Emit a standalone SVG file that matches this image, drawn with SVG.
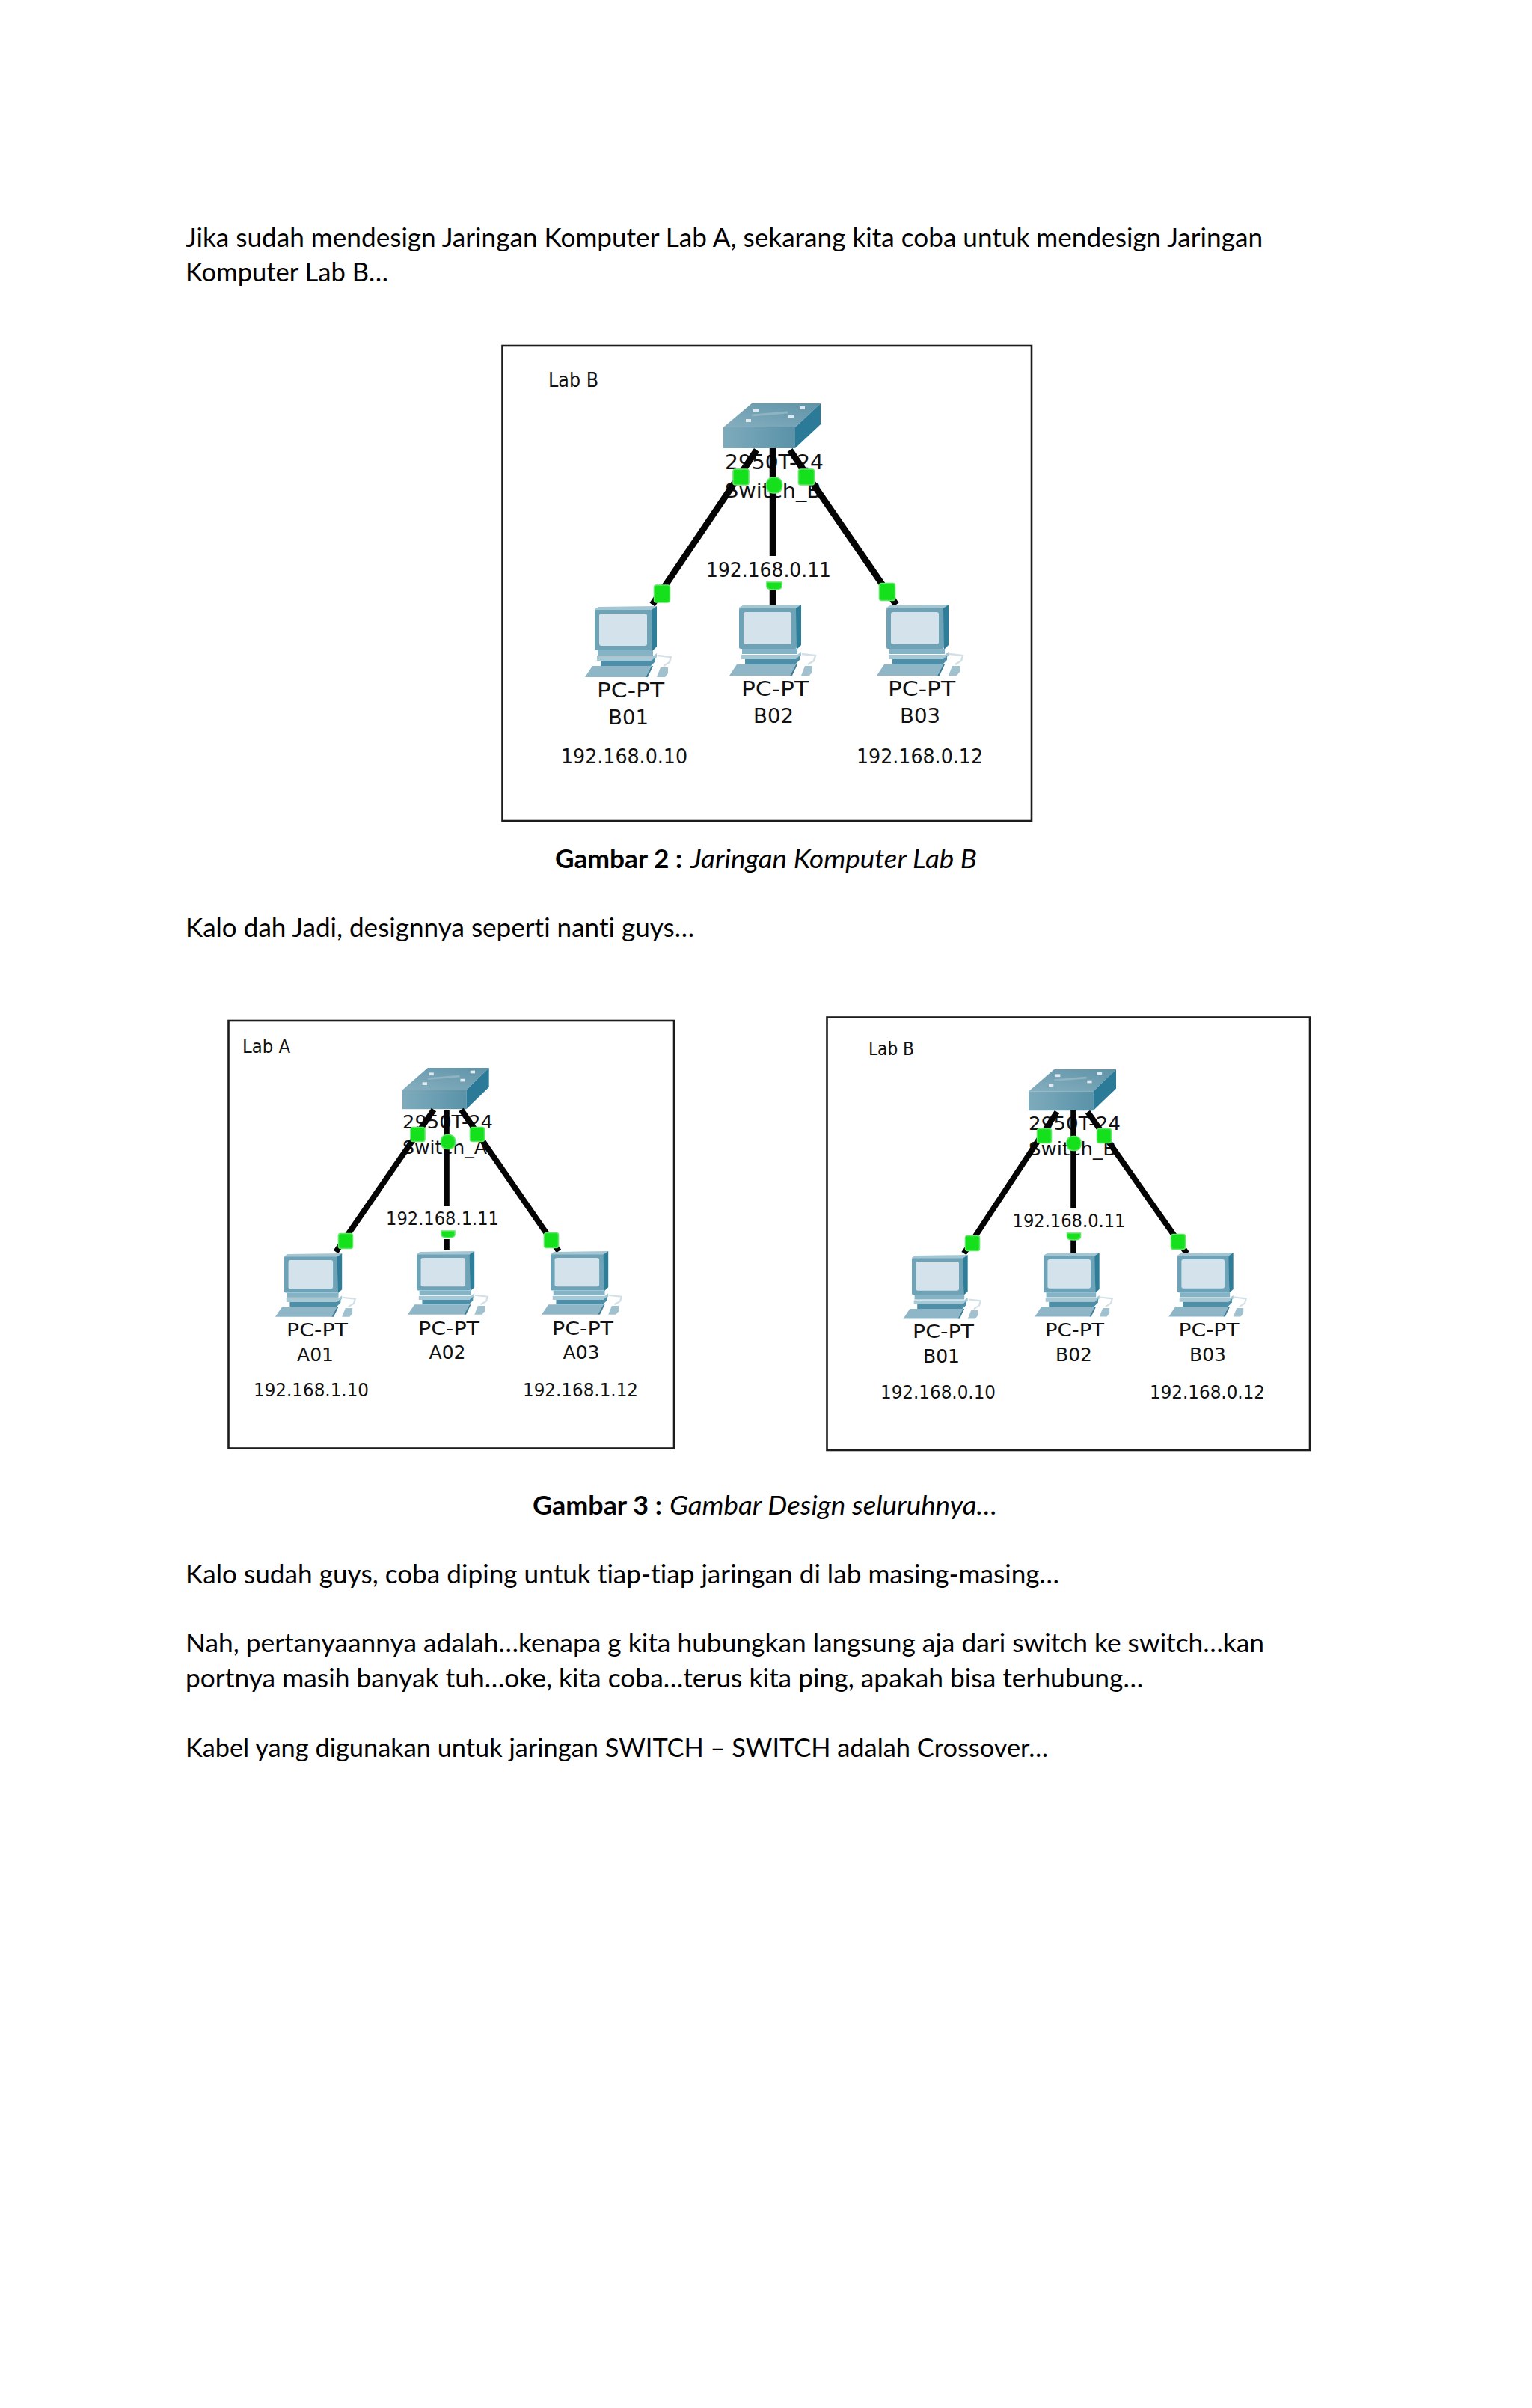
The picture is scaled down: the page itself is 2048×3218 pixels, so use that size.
<svg xmlns="http://www.w3.org/2000/svg" width="2048" height="3218" viewBox="0 0 2048 3218">
<style>
.b{font-family:"Lato","Open Sans",sans-serif;font-size:34px;fill:#000;font-variant-ligatures:none}
.bb{font-weight:700}
.bi{font-style:italic}
.n{font-family:"DejaVu Sans",sans-serif;font-size:27px;fill:#111;font-variant-ligatures:none}
.s{font-size:24.5px}
.f{fill:#fff;stroke:#1c1c1c;stroke-width:2.6}
.l{stroke:#040404;stroke-width:8.5;fill:none}
.ls{stroke-width:7.6}
.g{fill:#14e11c;stroke:#5fe866;stroke-width:1.6}
.soft{filter:url(#soft)}
</style>
<defs>
<filter id="soft" x="-5%" y="-5%" width="110%" height="110%"><feGaussianBlur stdDeviation="0.6"/></filter>
<linearGradient id="sf" x1="0" y1="0" x2="1" y2="0"><stop offset="0" stop-color="#7eabbc"/><stop offset="1" stop-color="#5a92a8"/></linearGradient>
<linearGradient id="st" x1="0" y1="1" x2="1" y2="0"><stop offset="0" stop-color="#86afbf"/><stop offset="1" stop-color="#5f93a8"/></linearGradient>
<g id="sw">
<polygon points="0,32 38,0 130,0 96,32" fill="url(#st)"/>
<rect x="0" y="32" width="96" height="28" fill="url(#sf)"/>
<polygon points="96,32 130,0 130,28 96,60" fill="#2a7a98"/>
<path d="M38,16L86,12" stroke="#8fb3c1" stroke-width="3" fill="none"/>
<rect x="40" y="7" width="7" height="4" fill="#dfeaf0"/><rect x="102" y="4" width="7" height="4" fill="#dfeaf0"/>
<rect x="30" y="21" width="7" height="4" fill="#dfeaf0"/><rect x="87" y="16" width="7" height="4" fill="#dfeaf0"/>
</g>
<g id="pc">
<path d="M84,65L102,67L100,74L92,79" stroke="#d3e1e7" stroke-width="2.5" fill="none"/>
<polygon points="0,3 5,0 83,-1 76,5 0,5" fill="#a4c5d2"/>
<rect x="0" y="4" width="77" height="54" rx="2" fill="#6ea3b7"/>
<polygon points="76,4 83,-1 83,53 77,59" fill="#2f7d99"/>
<rect x="6" y="9" width="64" height="43" rx="3" fill="#d4e3eb"/>
<rect x="4" y="58" width="74" height="7" fill="#83b3c5"/>
<polygon points="3,66 78,66 83,62 83,67 78,72 3,72" fill="#a7c8d5"/>
<polygon points="8,72 76,72 81,67 81,73 75,79 8,79" fill="#4d8ea8"/>
<polygon points="-13,94 -3,79 76,79 68,94" fill="#8eb6c7"/>
<polygon points="68,94 76,79 78,79 71,94" fill="#3f7f99"/>
<polygon points="83,94 88,81 98,81 98,89 94,94" fill="#a1c1ce"/>
</g>
</defs>
<rect width="2048" height="3218" fill="#fff"/>

<g id="text">
<text class="b" x="248" y="330" textLength="1440" lengthAdjust="spacingAndGlyphs">Jika sudah mendesign Jaringan Komputer Lab A, sekarang kita coba untuk mendesign Jaringan</text>
<text class="b" x="248" y="376" textLength="271" lengthAdjust="spacingAndGlyphs">Komputer Lab B…</text>
<text class="b bb" x="742" y="1159.5" textLength="170" lengthAdjust="spacingAndGlyphs">Gambar 2 :</text>
<text class="b bi" x="923" y="1159.5" textLength="383" lengthAdjust="spacingAndGlyphs">Jaringan Komputer Lab B</text>
<text class="b" x="248" y="1252" textLength="680" lengthAdjust="spacingAndGlyphs">Kalo dah Jadi, designnya seperti nanti guys…</text>
<text class="b bb" x="712" y="2023.5" textLength="173" lengthAdjust="spacingAndGlyphs">Gambar 3 :</text>
<text class="b bi" x="895" y="2023.5" textLength="438" lengthAdjust="spacingAndGlyphs">Gambar Design seluruhnya…</text>
<text class="b" x="248" y="2116" textLength="1168" lengthAdjust="spacingAndGlyphs">Kalo sudah guys, coba diping untuk tiap-tiap jaringan di lab masing-masing…</text>
<text class="b" x="248" y="2208" textLength="1442" lengthAdjust="spacingAndGlyphs">Nah, pertanyaannya adalah…kenapa g kita hubungkan langsung aja dari switch ke switch…kan</text>
<text class="b" x="248" y="2255" textLength="1280" lengthAdjust="spacingAndGlyphs">portnya masih banyak tuh…oke, kita coba…terus kita ping, apakah bisa terhubung…</text>
<text class="b" x="248" y="2348" textLength="1153" lengthAdjust="spacingAndGlyphs">Kabel yang digunakan untuk jaringan SWITCH – SWITCH adalah Crossover…</text>
</g>

<g id="frames">
<rect id="frame-lab-b" class="f" x="671.5" y="462" width="707.5" height="635"/>
<rect id="frame-lab-a2" class="f" x="305.5" y="1364" width="595.5" height="571.5"/>
<rect id="frame-lab-b2" class="f" x="1105.5" y="1359.5" width="645.5" height="578.5"/>
</g>

<g id="area-labels">
<text class="n" x="733" y="517" textLength="67" lengthAdjust="spacingAndGlyphs">Lab B</text>
<text class="n s" x="324" y="1407" textLength="64" lengthAdjust="spacingAndGlyphs">Lab A</text>
<text class="n s" x="1161" y="1410" textLength="61" lengthAdjust="spacingAndGlyphs">Lab B</text>
</g>

<g id="switch-b-1">
<use href="#sw" x="967" y="539" class="soft"/>
<text class="n" x="969" y="627" textLength="132" lengthAdjust="spacingAndGlyphs">2950T-24</text>
<text class="n" x="969" y="665" textLength="129" lengthAdjust="spacingAndGlyphs">Switch_B</text>
</g>
<g id="switch-a">
<use href="#sw" transform="translate(538 1427) scale(.89 .92)" class="soft"/>
<text class="n s" x="538" y="1508" textLength="121" lengthAdjust="spacingAndGlyphs">2950T-24</text>
<text class="n s" x="538" y="1542" textLength="113" lengthAdjust="spacingAndGlyphs">Switch_A</text>
</g>
<g id="switch-b-2">
<use href="#sw" transform="translate(1375 1429) scale(.9 .92)" class="soft"/>
<text class="n s" x="1375" y="1510" textLength="123" lengthAdjust="spacingAndGlyphs">2950T-24</text>
<text class="n s" x="1375" y="1543.5" textLength="117" lengthAdjust="spacingAndGlyphs">Switch_B</text>
</g>

<g id="connectors">
<path class="l" d="M1011.5,601.5L872,808M1033,599V743M1033,788V808M1056,601.5L1198,808"/>
<rect class="g" x="980" y="627" width="21" height="21" rx="3"/>
<rect class="g" x="1024.5" y="638" width="21" height="21" rx="9"/>
<rect class="g" x="1067.5" y="627" width="21" height="21" rx="3"/>
<path class="g" d="M1025,778H1045V784Q1045,788 1035,788Q1025,788 1025,784Z"/>
<rect class="g" x="874.5" y="782" width="21" height="23" rx="3"/>
<rect class="g" x="1175.5" y="779.5" width="21" height="23" rx="3"/>

<path class="l ls" d="M580,1483L449,1673M597,1483V1612M597,1656V1671M616.5,1483L747,1672"/>
<rect class="g" x="549" y="1506.5" width="19" height="19" rx="3"/>
<rect class="g" x="589.5" y="1516.5" width="19" height="19" rx="8"/>
<rect class="g" x="628.5" y="1506.5" width="19" height="19" rx="3"/>
<path class="g" d="M590,1645H608V1650Q608,1654 599,1654Q590,1654 590,1650Z"/>
<rect class="g" x="452.5" y="1648.5" width="19" height="20" rx="3"/>
<rect class="g" x="727.5" y="1647.5" width="19" height="20" rx="3"/>

<path class="l ls" d="M1413,1486L1288.6,1675M1435,1484V1614M1435,1656V1674M1454,1486L1586.5,1675"/>
<rect class="g" x="1386.5" y="1508.5" width="19" height="19" rx="3"/>
<rect class="g" x="1426" y="1518.5" width="19" height="19" rx="8"/>
<rect class="g" x="1466.5" y="1508.5" width="19" height="19" rx="3"/>
<path class="g" d="M1426.5,1648H1444.5V1653Q1444.5,1657 1435.5,1657Q1426.5,1657 1426.5,1653Z"/>
<rect class="g" x="1290.5" y="1651.5" width="19" height="20" rx="3"/>
<rect class="g" x="1565.5" y="1649.5" width="19" height="20" rx="3"/>
</g>

<g id="ip-switch-side">
<text class="n" x="944" y="771" textLength="167" lengthAdjust="spacingAndGlyphs">192.168.0.11</text>
<text class="n s" x="516" y="1637" textLength="151" lengthAdjust="spacingAndGlyphs">192.168.1.11</text>
<text class="n s" x="1353.5" y="1640" textLength="151" lengthAdjust="spacingAndGlyphs">192.168.0.11</text>
</g>

<g id="pc-b01-1"><use href="#pc" transform="translate(795 811)" class="soft"/>
<text class="n" x="798" y="932" textLength="90" lengthAdjust="spacingAndGlyphs">PC-PT</text>
<text class="n" x="813" y="968" textLength="54" lengthAdjust="spacingAndGlyphs">B01</text>
<text class="n" x="750" y="1020" textLength="169" lengthAdjust="spacingAndGlyphs">192.168.0.10</text></g>
<g id="pc-b02-1"><use href="#pc" transform="translate(988 809)" class="soft"/>
<text class="n" x="991" y="930" textLength="90" lengthAdjust="spacingAndGlyphs">PC-PT</text>
<text class="n" x="1007" y="966" textLength="54" lengthAdjust="spacingAndGlyphs">B02</text></g>
<g id="pc-b03-1"><use href="#pc" transform="translate(1185 809)" class="soft"/>
<text class="n" x="1187" y="930" textLength="90" lengthAdjust="spacingAndGlyphs">PC-PT</text>
<text class="n" x="1203" y="966" textLength="54" lengthAdjust="spacingAndGlyphs">B03</text>
<text class="n" x="1145" y="1020" textLength="169" lengthAdjust="spacingAndGlyphs">192.168.0.12</text></g>

<g id="pc-a01"><use href="#pc" transform="translate(380 1676) scale(.93 .89)" class="soft"/>
<text class="n s" x="383" y="1785.5" textLength="82" lengthAdjust="spacingAndGlyphs">PC-PT</text>
<text class="n s" x="397" y="1819" textLength="49" lengthAdjust="spacingAndGlyphs">A01</text>
<text class="n s" x="339" y="1866" textLength="154" lengthAdjust="spacingAndGlyphs">192.168.1.10</text></g>
<g id="pc-a02"><use href="#pc" transform="translate(557 1673) scale(.93 .89)" class="soft"/>
<text class="n s" x="559" y="1783.5" textLength="82" lengthAdjust="spacingAndGlyphs">PC-PT</text>
<text class="n s" x="573.5" y="1816" textLength="49" lengthAdjust="spacingAndGlyphs">A02</text></g>
<g id="pc-a03"><use href="#pc" transform="translate(736 1673) scale(.93 .89)" class="soft"/>
<text class="n s" x="738" y="1783.5" textLength="82" lengthAdjust="spacingAndGlyphs">PC-PT</text>
<text class="n s" x="752.5" y="1816" textLength="49" lengthAdjust="spacingAndGlyphs">A03</text>
<text class="n s" x="699" y="1866" textLength="154" lengthAdjust="spacingAndGlyphs">192.168.1.12</text></g>

<g id="pc-b01-2"><use href="#pc" transform="translate(1219 1678) scale(.9 .9)" class="soft"/>
<text class="n s" x="1220" y="1788" textLength="82" lengthAdjust="spacingAndGlyphs">PC-PT</text>
<text class="n s" x="1234" y="1821" textLength="49" lengthAdjust="spacingAndGlyphs">B01</text>
<text class="n s" x="1177" y="1868.5" textLength="154" lengthAdjust="spacingAndGlyphs">192.168.0.10</text></g>
<g id="pc-b02-2"><use href="#pc" transform="translate(1395 1675) scale(.9 .9)" class="soft"/>
<text class="n s" x="1397" y="1786" textLength="79" lengthAdjust="spacingAndGlyphs">PC-PT</text>
<text class="n s" x="1411" y="1819" textLength="49" lengthAdjust="spacingAndGlyphs">B02</text></g>
<g id="pc-b03-2"><use href="#pc" transform="translate(1574 1675) scale(.9 .9)" class="soft"/>
<text class="n s" x="1575.5" y="1786" textLength="81" lengthAdjust="spacingAndGlyphs">PC-PT</text>
<text class="n s" x="1590" y="1819" textLength="49" lengthAdjust="spacingAndGlyphs">B03</text>
<text class="n s" x="1537" y="1868.5" textLength="154" lengthAdjust="spacingAndGlyphs">192.168.0.12</text></g>
</svg>
